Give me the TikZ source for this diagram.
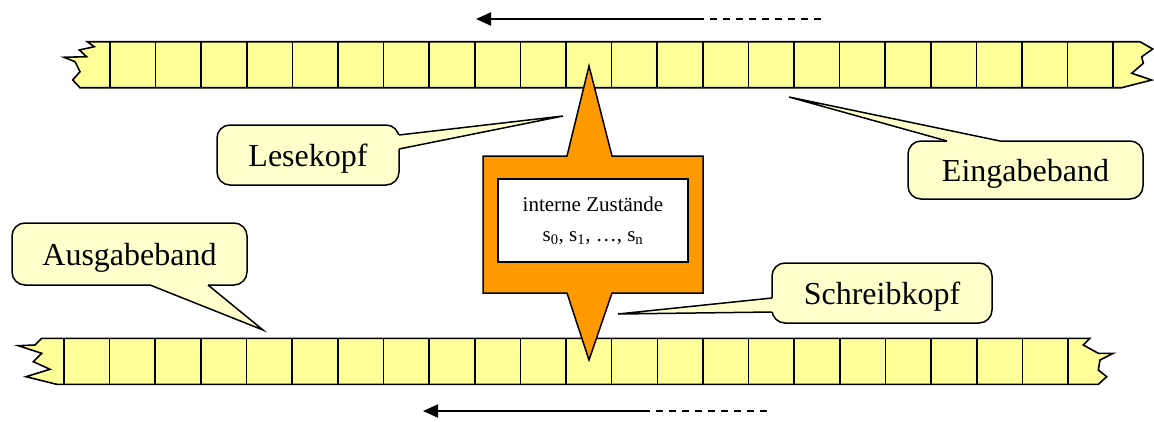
\documentclass[tikz,border=0pt]{standalone}
\usepackage{fontspec}
\setmainfont{Liberation Serif}
\usetikzlibrary{arrows.meta,calc}
\definecolor{tapeyellow}{HTML}{FFFF99}
\definecolor{callfill}{HTML}{FFFFCC}
\definecolor{orng}{HTML}{FF9900}
\begin{document}
\begin{tikzpicture}[x=1pt,y=-1pt,line width=1.5pt,line join=miter,
  tapeshape/.style={draw=black,fill=tapeyellow,line width=1.6pt},
  cellline/.style={draw=black,line width=1.6pt},
  callout/.style={draw=black,fill=callfill,rounded corners=13pt,line width=1.5pt,
    font=\fontsize{32}{36}\selectfont,inner sep=0pt,text height=22pt,text depth=0pt},
  wedgefill/.style={fill=callfill},
  wedgeline/.style={draw=black,line width=1.5pt,line join=miter},
  headshape/.style={draw=black,fill=orng,line width=1.5pt},
  statebox/.style={draw=black,fill=white,line width=1.5pt,inner sep=0pt,
    font=\fontsize{21}{30}\selectfont,align=center},
  solidarrow/.style={line width=2pt,-{Triangle[length=15pt,width=13pt]}},
  dashpart/.style={line width=1.6pt,dash pattern=on 7pt off 6pt}]
\useasboundingbox (0,0) rectangle (1154,421);

% ---------- top tape (Eingabeband) ----------
\filldraw[tapeshape] (87.3,41.7) -- (1140,41.7) -- (1152.7,49) -- (1141.7,56.7) -- (1143.3,63.3)
  -- (1131.7,73.3) -- (1151.7,80) -- (1121.7,87.7) -- (80,87.7) -- (72.7,80) -- (80,71.7)
  -- (75,61.7) -- (64,57.3) -- (86.7,56.7) -- (79.3,50) -- (94.3,46.7) -- cycle;
\foreach \k in {0,...,22} \draw[cellline] ({110+\k*45.6},41.7) -- ({110+\k*45.6},87.7);

% ---------- bottom tape (Ausgabeband) ----------
\filldraw[tapeshape] (41.7,338.3) -- (1090,338.3) -- (1083.3,345) -- (1098.3,353.3) -- (1113.3,353.3)
  -- (1100,360) -- (1098.3,370) -- (1106.7,376.7) -- (1098.3,384.3) -- (56.7,384.3)
  -- (26,376.7) -- (50,369.3) -- (33.3,361.7) -- (41.7,353.3) -- (18.3,345.7) -- (35,345) -- cycle;
\foreach \k in {0,...,22} \draw[cellline] ({64+\k*45.64},338.3) -- ({64+\k*45.64},384.3);

% ---------- head with internal states ----------
\filldraw[headshape] (483,156) -- (567,156) -- (589,66) -- (612,156) -- (703,156) -- (703,293)
  -- (612,293) -- (589,360) -- (567,293) -- (483,293) -- cycle;
\node[statebox,minimum width=190pt,minimum height=83pt] (state) at (593,220.5)
  {interne Zustände\\s\textsubscript{0}, s\textsubscript{1}, …, s\textsubscript{n}};

% ---------- callouts ----------
% Lesekopf
\node[callout,minimum width=182pt,minimum height=60pt] (lese) at (308,155) {Lesekopf};
\coordinate (lesetip) at (563,116);
\fill[wedgefill] (395,135) -- (399,135) -- (lesetip) -- (399,149) -- (395,149) -- cycle;
\draw[wedgeline] (399,135) -- (lesetip) -- (399,149);

% Eingabeband
\node[callout,minimum width=235pt,minimum height=58pt] (ein) at (1025.5,170) {Eingabeband};
\coordinate (eintip) at (789,97);
\fill[wedgefill] (947,145) -- (947,141) -- (eintip) -- (1000,141) -- (1000,145) -- cycle;
\draw[wedgeline] (947,141) -- (eintip) -- (1000,141);

% Ausgabeband
\node[callout,minimum width=235pt,minimum height=62pt] (aus) at (129.5,254) {Ausgabeband};
\coordinate (austip) at (263,330);
\fill[wedgefill] (150,281) -- (150,285) -- (austip) -- (208,285) -- (208,281) -- cycle;
\draw[wedgeline] (150,285) -- (austip) -- (208,285);

% Schreibkopf
\node[callout,minimum width=220pt,minimum height=60pt] (schreib) at (882,293) {Schreibkopf};
\coordinate (schreibtip) at (618,314);
\fill[wedgefill] (776,298) -- (772,298) -- (schreibtip) -- (772,312) -- (776,312) -- cycle;
\draw[wedgeline] (772,298) -- (schreibtip) -- (772,312);

% ---------- direction arrows ----------
\coordinate (ta) at (476,19);
\coordinate (tb) at (697,19);
\coordinate (tc) at (825,19);
\draw[solidarrow] (tb) -- (ta);
\draw[dashpart] (tb) -- (tc);
\coordinate (ba) at (423,411);
\coordinate (bb) at (643,411);
\coordinate (bc) at (772,411);
\draw[solidarrow] (bb) -- (ba);
\draw[dashpart] (bb) -- (bc);
\end{tikzpicture}
\end{document}
